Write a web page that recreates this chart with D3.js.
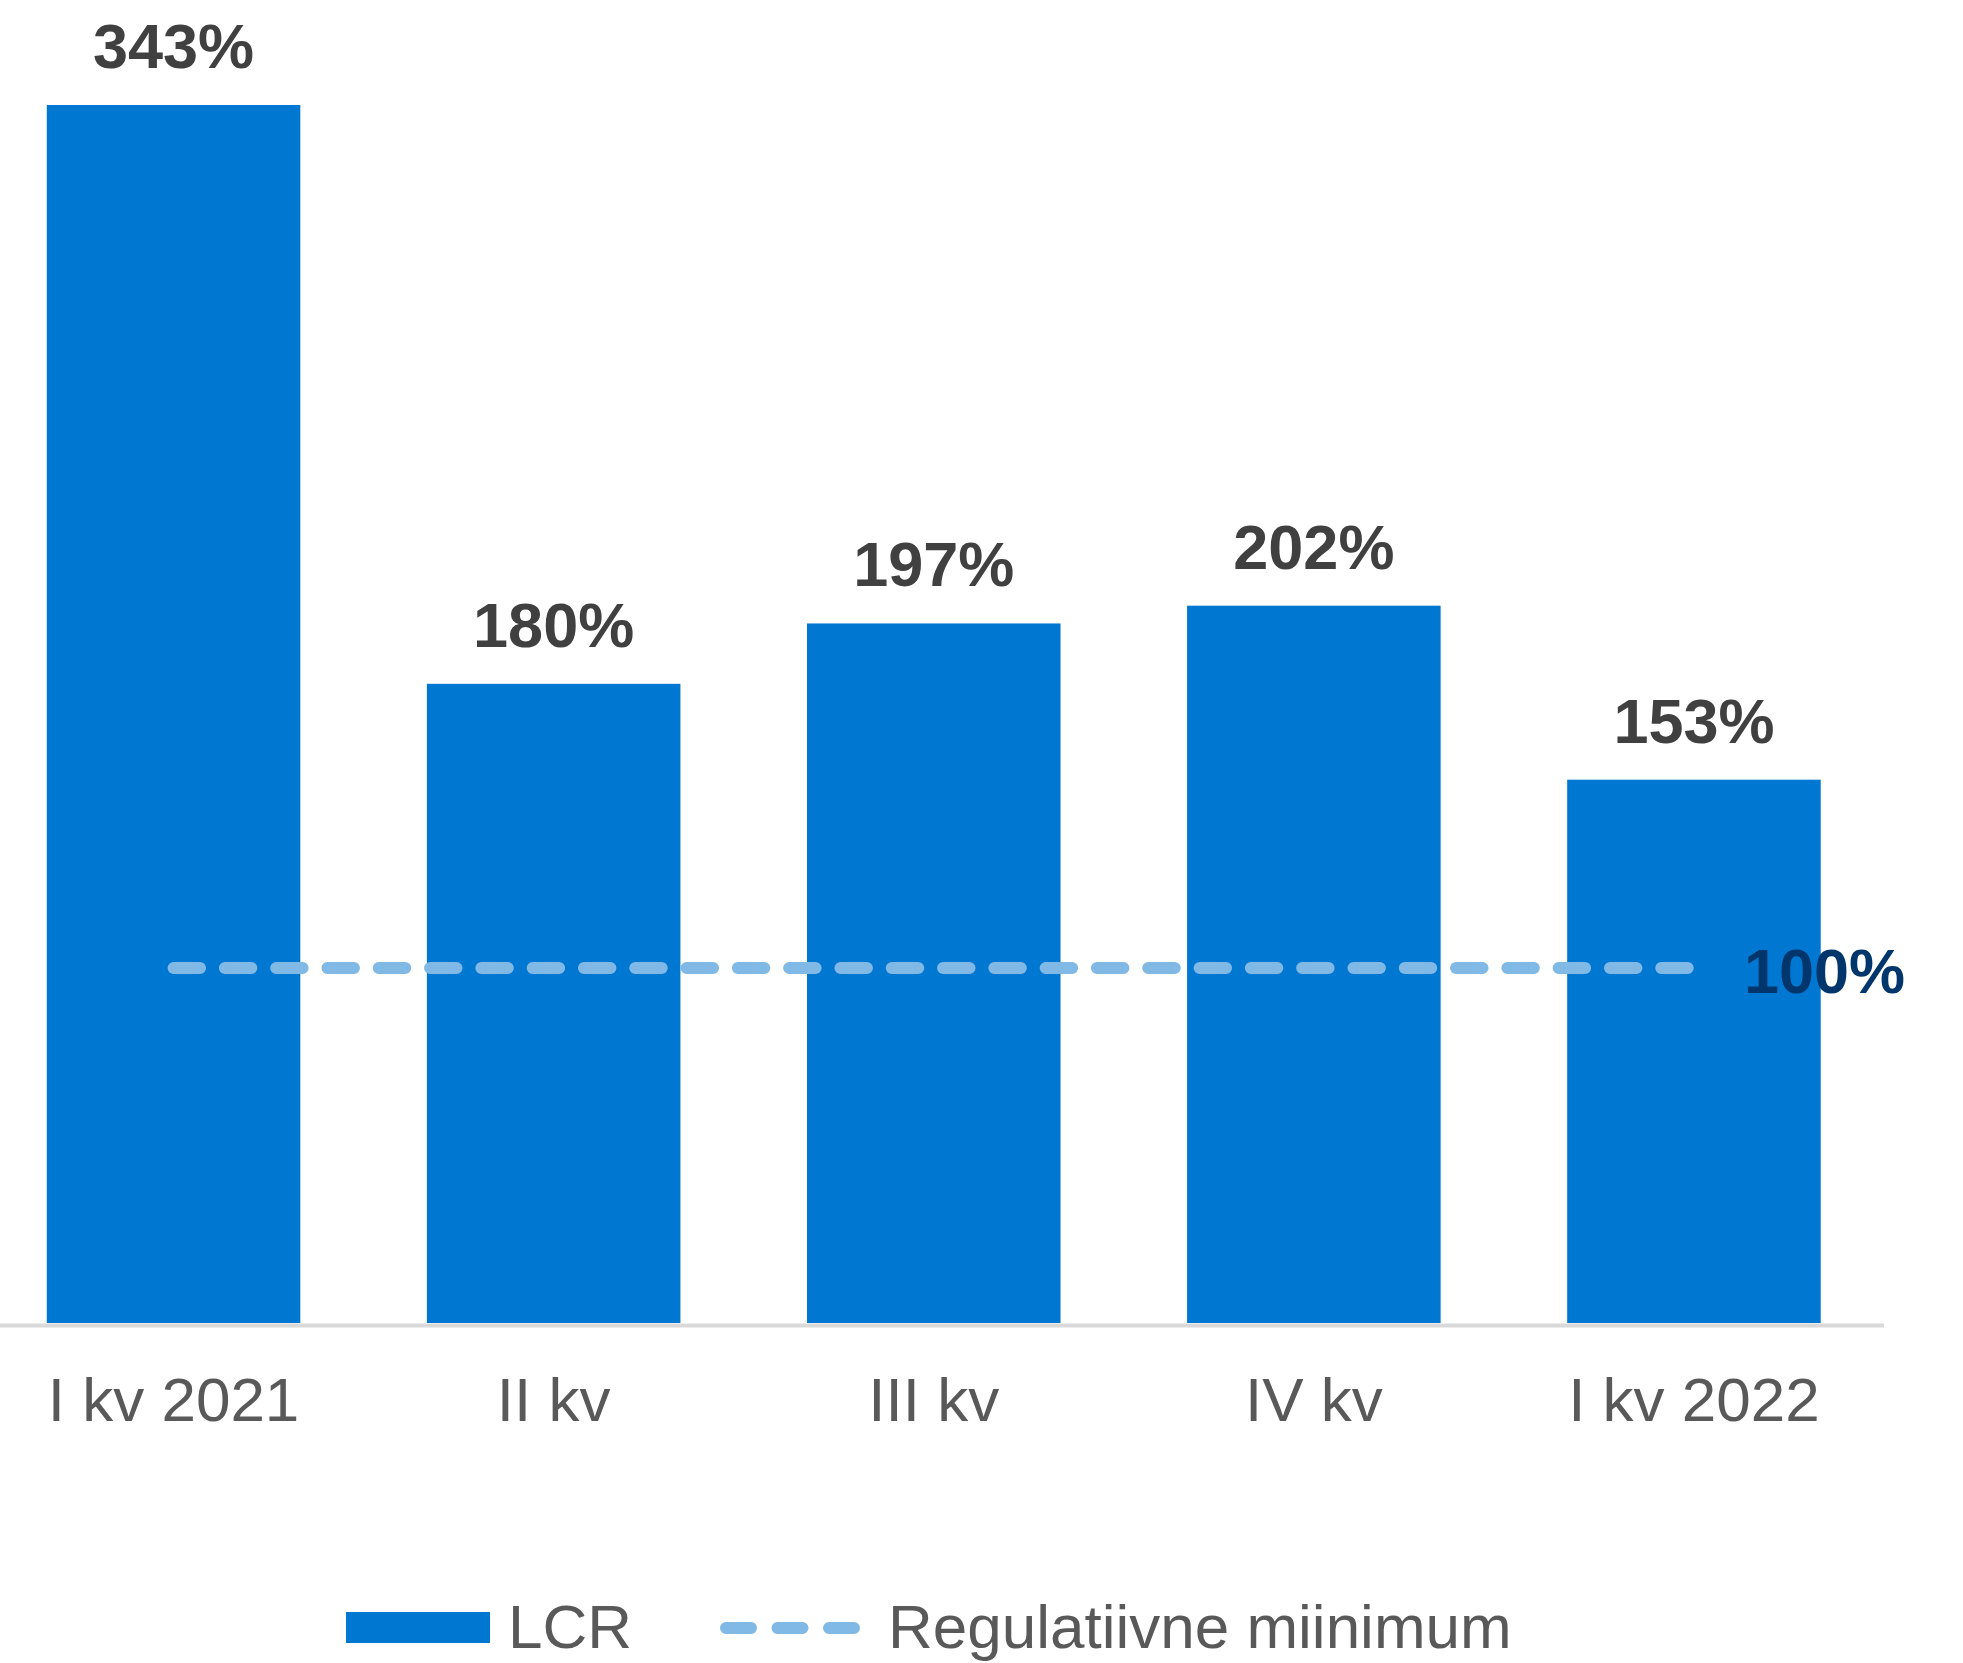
<!DOCTYPE html>
<html>
<head>
<meta charset="utf-8">
<script src="https://cdn.jsdelivr.net/npm/d3@7"></script>
<style>
  body { margin: 0; background: #fff; }
  svg text { font-family: "Liberation Sans", Arial, sans-serif; }
</style>
</head>
<body>
<svg id="chart"></svg>
<script>
var categories = ["I kv 2021", "II kv", "III kv", "IV kv", "I kv 2022"];
var lcr = [343, 180, 197, 202, 153];
var minimum = [100, 100, 100, 100, 100];
var legendLabels = ["LCR", "Regulatiivne miinimum"];

var W = 1963, H = 1663;
var baseY = 1323;

var svg = d3.select("#chart")
  .attr("width", W)
  .attr("height", H);

var x = d3.scaleBand()
  .domain(categories)
  .range([-16.5, 1884])
  .paddingInner(0.333)
  .paddingOuter(0.1665);

var y = d3.scaleLinear()
  .domain([0, 343])
  .range([baseY, 105]);

// bars
svg.append("g").selectAll("rect")
  .data(lcr)
  .join("rect")
  .attr("x", function(d, i) { return x(categories[i]); })
  .attr("y", function(d) { return y(d); })
  .attr("width", x.bandwidth())
  .attr("height", function(d) { return baseY - y(d); })
  .attr("fill", "#0077d0");

// value labels
svg.append("g").selectAll("text")
  .data(lcr)
  .join("text")
  .attr("x", function(d, i) { return x(categories[i]) + x.bandwidth() / 2; })
  .attr("y", function(d) { return y(d) - 37; })
  .attr("text-anchor", "middle")
  .attr("font-size", "63px")
  .attr("font-weight", "bold")
  .attr("fill", "#404040")
  .text(function(d) { return d + "%"; });

// axis line
svg.append("line")
  .attr("x1", 0)
  .attr("x2", 1884)
  .attr("y1", baseY + 2.5)
  .attr("y2", baseY + 2.5)
  .attr("stroke", "#d9d9d9")
  .attr("stroke-width", 4);

// category labels
var xAxis = d3.axisBottom(x).tickSize(0).tickPadding(0);
var gx = svg.append("g")
  .attr("transform", "translate(0," + baseY + ")")
  .call(xAxis);
gx.select(".domain").remove();
gx.selectAll("text")
  .attr("dy", 0)
  .attr("y", 98)
  .attr("font-size", "62px")
  .attr("font-family", "Liberation Sans, Arial, sans-serif")
  .attr("fill", "#595959");

// regulatory minimum line
var lineGen = d3.line()
  .x(function(d, i) { return x(categories[i]) + x.bandwidth() / 2; })
  .y(function(d) { return y(d); });

svg.append("path")
  .attr("d", lineGen(minimum))
  .attr("fill", "none")
  .attr("stroke", "#80b8e6")
  .attr("stroke-width", 12)
  .attr("stroke-linecap", "round")
  .attr("stroke-dasharray", "26.5,24.8");

svg.append("text")
  .attr("x", x(categories[4]) + x.bandwidth() / 2 + 50)
  .attr("y", y(minimum[4]) + 25)
  .attr("font-size", "63px")
  .attr("font-weight", "bold")
  .attr("fill", "#00366b")
  .text(minimum[4] + "%");

// legend
var lg = svg.append("g");
lg.append("rect")
  .attr("x", 346)
  .attr("y", 1612)
  .attr("width", 144)
  .attr("height", 31)
  .attr("fill", "#0077d0");
lg.append("text")
  .attr("x", 508)
  .attr("y", 1648)
  .attr("font-size", "62px")
  .attr("fill", "#595959")
  .text(legendLabels[0]);
lg.append("line")
  .attr("x1", 726)
  .attr("x2", 856)
  .attr("y1", 1628)
  .attr("y2", 1628)
  .attr("stroke", "#80b8e6")
  .attr("stroke-width", 12)
  .attr("stroke-linecap", "round")
  .attr("stroke-dasharray", "25,26.5");
lg.append("text")
  .attr("x", 888)
  .attr("y", 1648)
  .attr("font-size", "62px")
  .attr("fill", "#595959")
  .text(legendLabels[1]);
</script>
</body>
</html>
